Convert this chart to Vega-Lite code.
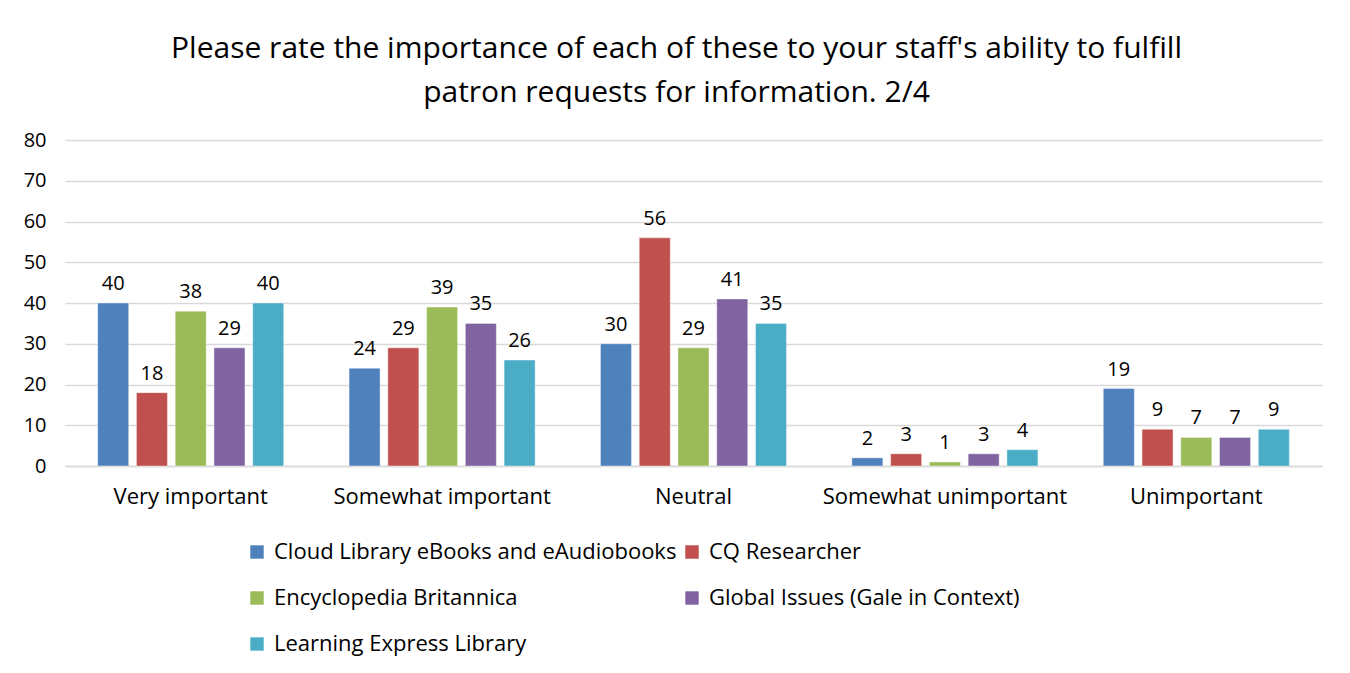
{
  "$schema": "https://vega.github.io/schema/vega-lite/v6.json",
  "autosize": "none",
  "width": 1257,
  "height": 326,
  "padding": {"left": 65, "top": 140, "right": 28, "bottom": 207},
  "background": "white",
  "title": {
    "text": ["Please rate the importance of each of these to your staff's ability to fulfill", "patron requests for information. 2/4"],
    "fontSize": 30,
    "font": "Open Sans",
    "fontWeight": "normal",
    "color": "black",
    "lineHeight": 44,
    "anchor": "middle",
    "dx": -17,
    "offset": 22
  },
  "data": {
    "values": [
      {"rating": "Very important", "resource": "Cloud Library eBooks and eAudiobooks", "count": 40},
      {"rating": "Very important", "resource": "CQ Researcher", "count": 18},
      {"rating": "Very important", "resource": "Encyclopedia Britannica", "count": 38},
      {"rating": "Very important", "resource": "Global Issues (Gale in Context)", "count": 29},
      {"rating": "Very important", "resource": "Learning Express Library", "count": 40},
      {"rating": "Somewhat important", "resource": "Cloud Library eBooks and eAudiobooks", "count": 24},
      {"rating": "Somewhat important", "resource": "CQ Researcher", "count": 29},
      {"rating": "Somewhat important", "resource": "Encyclopedia Britannica", "count": 39},
      {"rating": "Somewhat important", "resource": "Global Issues (Gale in Context)", "count": 35},
      {"rating": "Somewhat important", "resource": "Learning Express Library", "count": 26},
      {"rating": "Neutral", "resource": "Cloud Library eBooks and eAudiobooks", "count": 30},
      {"rating": "Neutral", "resource": "CQ Researcher", "count": 56},
      {"rating": "Neutral", "resource": "Encyclopedia Britannica", "count": 29},
      {"rating": "Neutral", "resource": "Global Issues (Gale in Context)", "count": 41},
      {"rating": "Neutral", "resource": "Learning Express Library", "count": 35},
      {"rating": "Somewhat unimportant", "resource": "Cloud Library eBooks and eAudiobooks", "count": 2},
      {"rating": "Somewhat unimportant", "resource": "CQ Researcher", "count": 3},
      {"rating": "Somewhat unimportant", "resource": "Encyclopedia Britannica", "count": 1},
      {"rating": "Somewhat unimportant", "resource": "Global Issues (Gale in Context)", "count": 3},
      {"rating": "Somewhat unimportant", "resource": "Learning Express Library", "count": 4},
      {"rating": "Unimportant", "resource": "Cloud Library eBooks and eAudiobooks", "count": 19},
      {"rating": "Unimportant", "resource": "CQ Researcher", "count": 9},
      {"rating": "Unimportant", "resource": "Encyclopedia Britannica", "count": 7},
      {"rating": "Unimportant", "resource": "Global Issues (Gale in Context)", "count": 7},
      {"rating": "Unimportant", "resource": "Learning Express Library", "count": 9}
    ]
  },
  "encoding": {
    "x": {
      "field": "rating",
      "type": "nominal",
      "sort": ["Very important", "Somewhat important", "Neutral", "Somewhat unimportant", "Unimportant"],
      "scale": {"paddingInner": 0.26, "paddingOuter": 0.13},
      "axis": {"title": null, "labelAngle": 0, "labelFontSize": 22, "labelFont": "Open Sans", "labelColor": "black", "labelPadding": 20, "labelLimit": 400, "ticks": false, "domainColor": "#d9d9d9", "domainWidth": 1.5}
    },
    "xOffset": {
      "field": "resource",
      "type": "nominal",
      "sort": ["Cloud Library eBooks and eAudiobooks", "CQ Researcher", "Encyclopedia Britannica", "Global Issues (Gale in Context)", "Learning Express Library"],
      "scale": {"paddingInner": 0.2, "paddingOuter": 0}
    },
    "y": {
      "field": "count",
      "type": "quantitative",
      "scale": {"domain": [0, 80], "nice": false},
      "axis": {"title": null, "values": [0, 10, 20, 30, 40, 50, 60, 70, 80], "labelFontSize": 20, "labelFont": "Open Sans", "labelColor": "black", "labelPadding": 19, "ticks": false, "domain": false, "gridColor": "#d9d9d9", "gridWidth": 1.5}
    }
  },
  "layer": [
    {
      "mark": {"type": "bar", "stroke": "white", "strokeOpacity": 0.4, "strokeWidth": 1},
      "encoding": {
        "color": {
          "field": "resource",
          "type": "nominal",
          "scale": {
            "domain": ["Cloud Library eBooks and eAudiobooks", "Encyclopedia Britannica", "Learning Express Library", "CQ Researcher", "Global Issues (Gale in Context)"],
            "range": ["#4f81bd", "#9bbb59", "#4bacc6", "#c0504d", "#8064a2"]
          },
          "legend": {
            "title": null,
            "orient": "none",
            "legendX": 181,
            "legendY": 401,
            "columns": 2,
            "columnPadding": 4,
            "rowPadding": 24,
            "symbolType": "square",
            "symbolSize": 180,
            "symbolStrokeWidth": 0,
            "labelFontSize": 22,
            "labelFont": "Open Sans",
            "labelColor": "black",
            "labelOffset": 6,
            "labelLimit": 600
          }
        }
      }
    },
    {
      "mark": {"type": "text", "baseline": "bottom", "dy": -9, "fontSize": 20, "font": "Open Sans", "color": "black"},
      "encoding": {
        "text": {"field": "count", "type": "quantitative"}
      }
    }
  ],
  "config": {
    "view": {"stroke": null}
  }
}
